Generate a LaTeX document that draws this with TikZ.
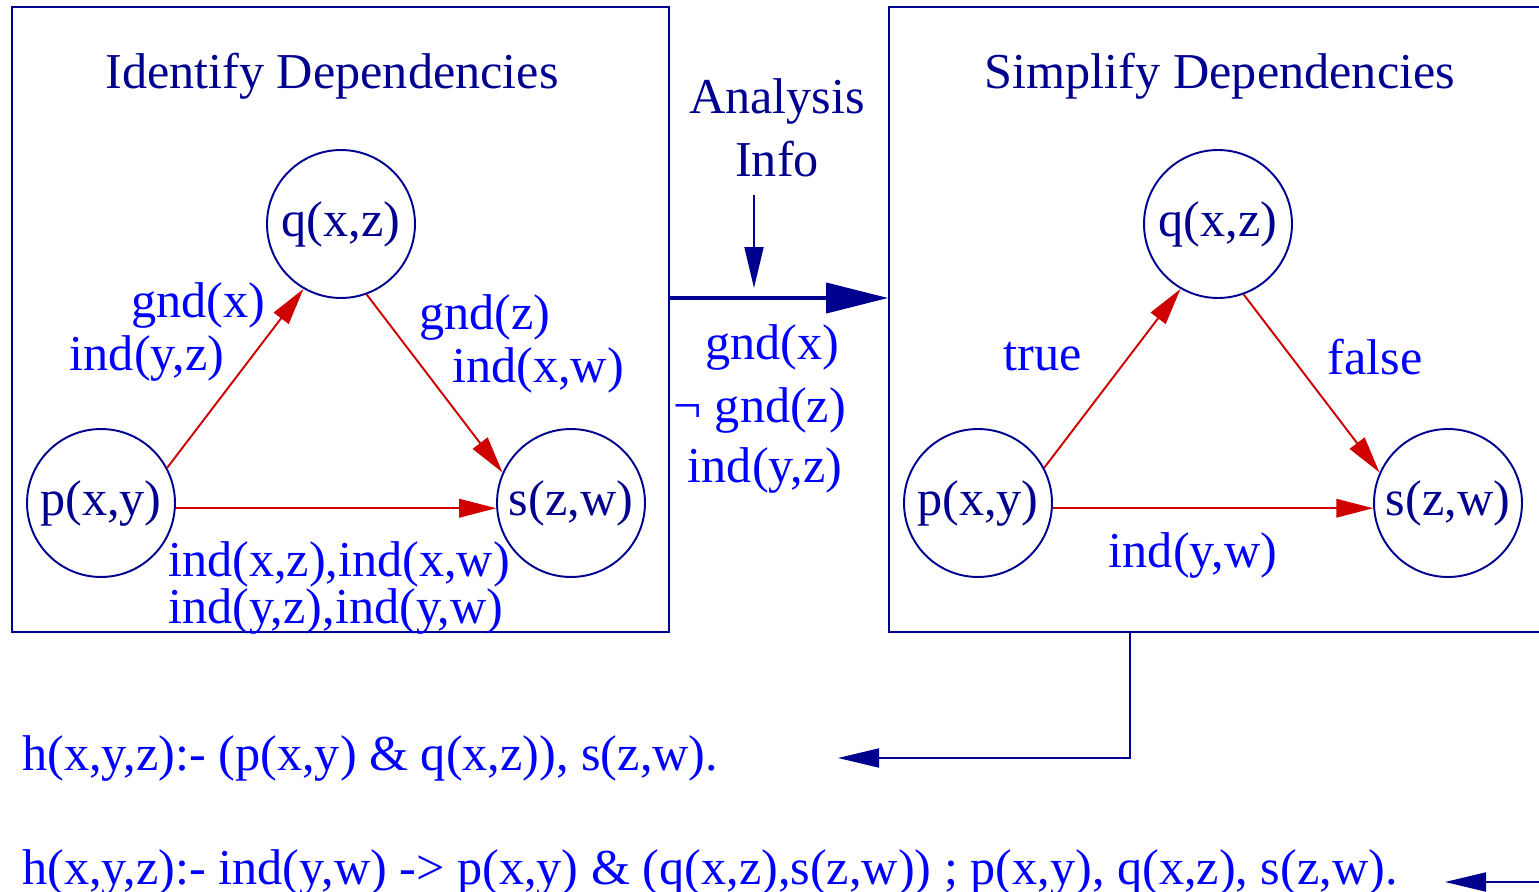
\documentclass[tikz,border=0pt]{standalone}
\usepackage{fontspec}
\setmainfont{Liberation Serif}
\usetikzlibrary{arrows.meta,positioning}
\definecolor{navy}{RGB}{0,0,144}
\definecolor{lblblue}{RGB}{0,0,255}
\definecolor{arrred}{RGB}{208,0,0}
\tikzset{
  knot/.style={circle,draw=navy,line width=1.1pt,minimum size=2.96cm,inner sep=0pt,text=navy},
  panel/.style={draw=navy,line width=1.1pt,minimum width=13.14cm,minimum height=12.5cm,inner sep=0pt},
  ttl/.style={text=navy,inner sep=0pt},
  lbl/.style={text=lblblue,inner sep=0pt},
  dep/.style={draw=arrred,line width=1.1pt,-{Triangle[length=0.74cm,width=0.37cm]}},
  flow/.style={draw=navy,line width=1.1pt,-{Triangle[length=0.82cm,width=0.38cm]}},
  bigflow/.style={draw=navy,line width=2.3pt,-{Triangle[length=1.24cm,width=0.6cm]}},
}

\begin{document}
\begin{tikzpicture}[x=0.02cm,y=-0.02cm,font=\fontsize{28.6}{34}\selectfont]
  \useasboundingbox (0,0) rectangle (1539,892);
  % the two panels
  \node[panel] (lbox) at (340.5,319.5) {};
  \node[panel,minimum width=13.12cm] (rbox) at (1217,319.5) {};
  \node[ttl] (ltitle) at (332,76) {Identify Dependencies};
  \node[ttl] (rtitle) at (1220,76) {Simplify Dependencies};

  % left graph
  \node[knot] (lq) at (341,224) {q(x,z)};
  \node[knot] (lp) at (101,503) {p(x,y)};
  \node[knot] (ls) at (571,503) {s(z,w)};
  \draw[dep] (lp.28) -- (lq.240);
  \draw[dep] (lq.290) -- (ls.156);
  \draw[dep] (lp.-4) -- (ls.184);
  \node[lbl] (lpq1) at (198,305) {gnd(x)};
  \node[lbl] (lpq2) at (147,358) {ind(y,z)};
  \node[lbl] (lqs1) at (485,317) {gnd(z)};
  \node[lbl] (lqs2) at (538,370) {ind(x,w)};
  \node[lbl,align=left,font=\fontsize{28.6}{23.5}\selectfont] (lps) at (339,588)
    {ind(x,z),ind(x,w)\\ind(y,z),ind(y,w)};

  % analysis info between the panels
  \node[ttl,align=center,font=\fontsize{28.6}{36}\selectfont] (info) at (777,128) {Analysis\\Info};
  \coordinate (infotop) at (754,195);
  \coordinate (infobot) at (754,288);
  \draw[flow] (infotop) -- (infobot);
  \coordinate (hand) at (669,298);
  \draw[bigflow] (hand) -- (hand -| rbox.west);
  \node[lbl] (cond1) at (772,347) {gnd(x)};
  \node[lbl] (cond2) at (760,410) {¬ gnd(z)};
  \node[lbl] (cond3) at (765,470) {ind(y,z)};

  % right graph
  \node[knot] (rq) at (1218,224) {q(x,z)};
  \node[knot] (rp) at (978,503) {p(x,y)};
  \node[knot] (rs) at (1448,503) {s(z,w)};
  \draw[dep] (rp.28) -- (rq.240);
  \draw[dep] (rq.290) -- (rs.156);
  \draw[dep] (rp.-4) -- (rs.184);
  \node[lbl] (rpq) at (1043,357) {true};
  \node[lbl] (rqs) at (1375,357) {false};
  \node[lbl] (rps) at (1193,555) {ind(y,w)};

  % resulting clauses
  \node[lbl,anchor=base west] (rule1) at (22,770) {h(x,y,z):- (p(x,y) \& q(x,z)), s(z,w).};
  \node[lbl,anchor=base west] (rule2) at (22,884)
    {h(x,y,z):- ind(y,w) -> p(x,y) \& (q(x,z),s(z,w)) ; p(x,y), q(x,z), s(z,w).};
  \coordinate (rout) at (1130,632);
  \coordinate (r1) at (838,758);
  \draw[flow] (rout) |- (r1);
  \coordinate (edge2) at (1545,882);
  \coordinate (r2) at (1445,882);
  \draw[flow] (edge2) -- (r2);
\end{tikzpicture}
\end{document}
